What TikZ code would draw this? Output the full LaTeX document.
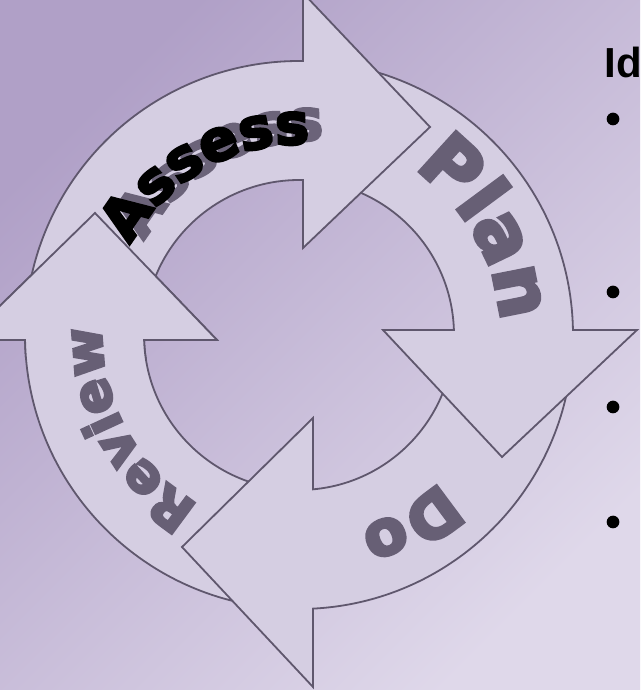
\documentclass[tikz,border=0pt]{standalone}
\usepackage{fontspec}
\usetikzlibrary{calc,decorations.text}
\newfontfamily\heavy{DejaVu Sans Bold}[FakeBold=5]
\newfontfamily\arialfam{Liberation Sans}
\definecolor{bgTop}{HTML}{B0A0C7}
\definecolor{bgMid}{HTML}{B8A9CD}
\definecolor{bgBot}{HTML}{DFD8EA}
\definecolor{band}{HTML}{D5CEE2}
\definecolor{edge}{HTML}{5F576D}
\definecolor{lbl}{HTML}{675F75}
\definecolor{shadowlbl}{HTML}{6B6379}
\begin{document}
\begin{tikzpicture}[x=1pt,y=1pt,
  arrowshape/.style={fill=band, draw=edge, line width=1.8pt, line join=miter},
  bulletdot/.style={circle, fill=black, minimum size=12.7pt, inner sep=0pt}]
\useasboundingbox (0,0) rectangle (640,690);
\clip (0,0) rectangle (640,690);
\shade[top color=bgTop, middle color=bgMid, bottom color=bgBot, shading angle=45] (0,0) rectangle (640,690);
\coordinate (C) at (299,355);
\coordinate (C2) at (313,359);
% Review arrow (left, pointing up)
\path[arrowshape] ($(C)+(270:274)$) arc[start angle=270, end angle=181.046, radius=274]
  -- (-35,350) -- (95,477) -- (217,350) -- ($(C)+(181.849:155)$)
  arc[start angle=181.849, end angle=270, radius=155] -- cycle;
% Do arrow (bottom, pointing left)
\path[arrowshape] ($(C)+(0:274)$) arc[start angle=0, end angle=-87.07, radius=274]
  -- (313,3) -- (182,143) -- (313,272) -- ($(C)+(-84.82:155)$)
  arc[start angle=-84.82, end angle=0, radius=155] -- cycle;
% Plan arrow (right, pointing down)
\path[arrowshape] ($(C)+(90:274)$) arc[start angle=90, end angle=1.046, radius=274]
  -- (637,360) -- (502,233) -- (383,360) -- ($(C)+(1.849:155)$)
  arc[start angle=1.849, end angle=90, radius=155] -- cycle;
% Assess arrow (top, pointing right)
\path[arrowshape] ($(C)+(180:274)$) arc[start angle=180, end angle=89.16, radius=274]
  -- (303,697) -- (430,563) -- (303,442) -- ($(C)+(88.52:155)$)
  arc[start angle=88.52, end angle=180, radius=155] -- cycle;
% Review head again on top of the Assess tail
\begin{scope}
\clip (-50,330) rectangle (235,490);
\path[arrowshape] ($(C)+(270:274)$) arc[start angle=270, end angle=181.046, radius=274]
  -- (-35,350) -- (95,477) -- (217,350) -- ($(C)+(181.849:155)$)
  arc[start angle=181.849, end angle=270, radius=155] -- cycle;
\end{scope}
% labels
\path[decorate, decoration={text along path, text={|\heavy\fontsize{74}{74}\selectfont|Plan}, text align=center, text color=lbl}]
  ($(C)+(79.6:202)$) arc[start angle=79.6, end angle=-20.4, radius=202];
\path[decorate, decoration={text along path, text={|\heavy\fontsize{62.6}{62.6}\selectfont|Do}, text align=center, text color=lbl}]
  ($(C)+(345.6:203)$) arc[start angle=345.6, end angle=255.6, radius=203];
\path[decorate, decoration={text along path, text={|\heavy\fontsize{52.7}{52.7}\selectfont|Review}, text align=center, text color=lbl}]
  ($(C)+(268.5:197)$) arc[start angle=268.5, end angle=148.5, radius=197];
\path[decorate, decoration={text along path, text={|\heavy\fontsize{56.6}{56.6}\selectfont|Assess}, text align=center, text color=shadowlbl}]
  ($(C2)+(179.4:191)$) arc[start angle=179.4, end angle=59.4, radius=191];
\path[decorate, decoration={text along path, text={|\heavy\fontsize{56.6}{56.6}\selectfont|Assess}, text align=center, text color=black}]
  ($(C)+(179.4:191)$) arc[start angle=179.4, end angle=59.4, radius=191];
% right-hand text
\node[anchor=base west, inner sep=0pt, font=\arialfam\bfseries\fontsize{42}{42}\selectfont] (idtext) at (604.5,612) {Id};
\node[bulletdot] (b1) at (613,571) {};
\node[bulletdot] (b2) at (613,398) {};
\node[bulletdot] (b3) at (613,283) {};
\node[bulletdot] (b4) at (613,168) {};
\end{tikzpicture}
\end{document}
